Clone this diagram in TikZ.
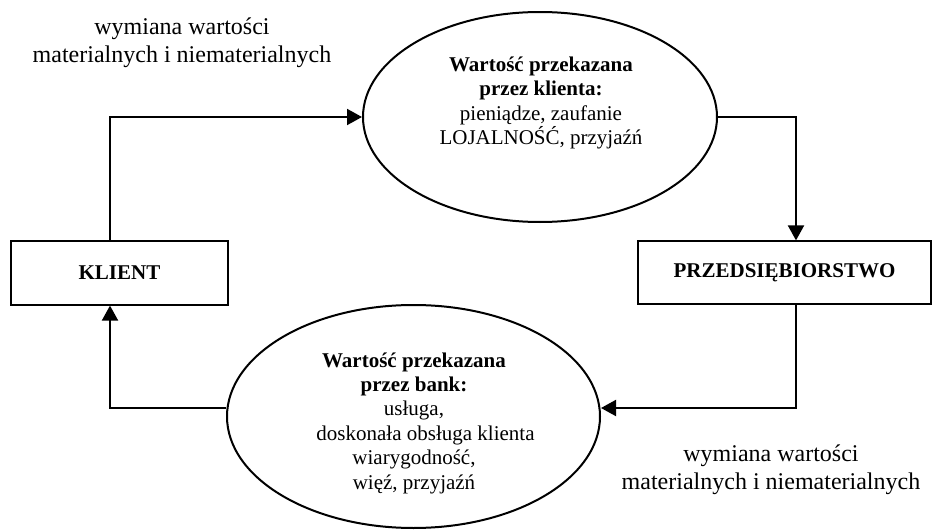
\documentclass[tikz,border=0pt]{standalone}
\usepackage{fontspec}
\setmainfont{Liberation Serif}
\usetikzlibrary{shapes.geometric,arrows.meta}
\tikzset{
  wartosc/.style={ellipse, draw, line width=1pt, inner sep=0pt},
  podmiot/.style={rectangle, draw, line width=0.6pt, inner sep=0pt, font=\fontsize{10.5}{12.2}\selectfont\bfseries},
  opis/.style={align=center, font=\fontsize{10.5}{12.2}\selectfont},
  wymiana/.style={align=center, font=\fontsize{12}{14}\selectfont},
  strzalka/.style={->, line width=1pt}
}
\begin{document}
\begin{tikzpicture}[x=0.5pt, y=-0.5pt, >={Triangle[length=7.5pt,width=8pt]}, line join=miter]
  \useasboundingbox (0,0) rectangle (933,530);
  % obiekty
  \node[podmiot, minimum width=108.5pt, minimum height=32pt] (klient) at (119.5,273) {KLIENT};
  \node[podmiot, minimum width=146.5pt, minimum height=31.5pt] (firma) at (784.5,272.5) {PRZEDSIĘBIORSTWO};
  \node[wartosc, minimum width=177pt, minimum height=105pt] (wk) at (540,117) {};
  \node[wartosc, minimum width=186.5pt, minimum height=111.5pt] (wb) at (413.5,416.5) {};
  % teksty w elipsach
  \node[opis] (tk) at (541,103) {\textbf{Wartość przekazana}\\ \textbf{przez klienta:}\\ pieniądze, zaufanie\\ LOJALNOŚĆ, przyjaźń};
  \node[opis] (tb) at (414,423) {\textbf{Wartość przekazana}\\ \textbf{przez bank:}\\ usługa,\\ \hspace*{1.1em}doskonała obsługa klienta\\ wiarygodność,\\ więź, przyjaźń};
  % opisy wymiany
  \node[wymiana] (w1) at (182,43) {wymiana wartości\\ materialnych i niematerialnych};
  \node[wymiana] (w2) at (771,470) {wymiana wartości\\ materialnych i niematerialnych};
  % przeplyw
  \draw[strzalka] (klient.north -| 110,0) |- (wk.west);
  \draw[strzalka] (wk.east) -| (firma.north -| 796,0);
  \draw[strzalka] (firma.south -| 796,0) |- (wb.east |- 0,408);
  \draw[strzalka] (wb.west |- 0,408) -| (klient.south -| 110,0);
\end{tikzpicture}
\end{document}
